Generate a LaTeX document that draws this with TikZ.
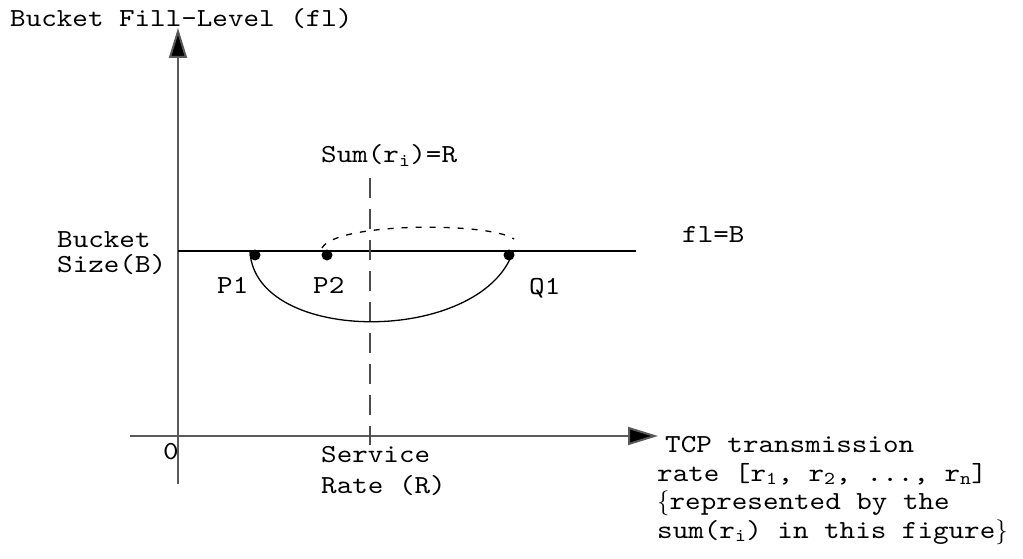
\documentclass[tikz,border=0pt]{standalone}
\usepackage{fontspec}
\newfontfamily\cour[FakeStretch=1.14]{lmmono10-regular.otf}
\usetikzlibrary{arrows.meta}
\begin{document}
\begin{tikzpicture}[x=1pt,y=-1pt,
  lbl/.style={anchor=base west,inner sep=0pt,text height=17pt,text depth=5pt,font=\cour\fontsize{26}{28}\selectfont},
  block/.style={anchor=base west,inner sep=0pt,align=left,font=\cour\fontsize{26}{28.4}\selectfont},
  axis/.style={draw=black!65,line width=2pt},
  axarrow/.style={-{Triangle[length=30pt,width=18pt,fill=black]}},
  levelline/.style={draw=black,line width=1.5pt},
  dot/.style={circle,fill=black,inner sep=0pt,minimum size=11pt},
  curve/.style={draw=black,line width=1.3pt},
  dotcurve/.style={draw=black,line width=1.3pt,dash pattern=on 6pt off 8pt},
  vdash/.style={draw=black!70,line width=2pt,dash pattern=on 20pt off 11pt}]
\useasboundingbox (0,0) rectangle (1023,559);
% axes
\coordinate (yb) at (178,484);
\coordinate (yt) at (178,28);
\coordinate (xl) at (130,436);
\coordinate (xr) at (658,436);
\draw[axis,axarrow] (yb) -- (yt);
\draw[axis,axarrow] (xl) -- (xr);
% fl=B line
\coordinate (ll) at (178,251);
\coordinate (lr) at (636,251);
\draw[levelline] (ll) -- (lr);
% vertical dashed line
\coordinate (vt) at (370,178);
\coordinate (vb) at (370,445);
\draw[vdash] (vt) -- (vb);
% curves
\coordinate (c1) at (250,252);
\coordinate (c2) at (513,252);
\draw[curve] (c1) .. controls (256,345) and (480,345) .. (c2);
\coordinate (d1) at (322,248);
\coordinate (d2) at (514,239);
\draw[dotcurve] (d1) .. controls (336,222) and (490,222) .. (d2);
% dots
\node[dot] (p1) at (255,255) {};
\node[dot] (p2) at (327,255) {};
\node[dot] (q1) at (509,255) {};
% labels
\node[lbl] (tl) at (10,27) {Bucket Fill-Level (fl)};
\node[lbl] (sum) at (321,163) {Sum(r\textsubscript{i})=R};
\node[lbl] (bs1) at (57,247) {Bucket};
\node[lbl] (bs2) at (57,272) {Size(B)};
\node[lbl] (flb) at (682,242) {fl=B};
\node[lbl] (lp1) at (217,293) {P1};
\node[lbl] (lp2) at (313,293) {P2};
\node[lbl] (lq1) at (529,294) {Q1};
\node[lbl] (zero) at (163,459) {0};
\node[lbl] (sr1) at (321,462) {Service};
\node[lbl] (sr2) at (321,493) {Rate (R)};
\node[block] (tcp) at (657,538) {\hspace*{8pt}TCP transmission\\rate [r\textsubscript{1}, r\textsubscript{2}, ..., r\textsubscript{n}]\\$\{$represented by the\\sum(r\textsubscript{i}) in this figure$\}$};
\end{tikzpicture}
\end{document}
